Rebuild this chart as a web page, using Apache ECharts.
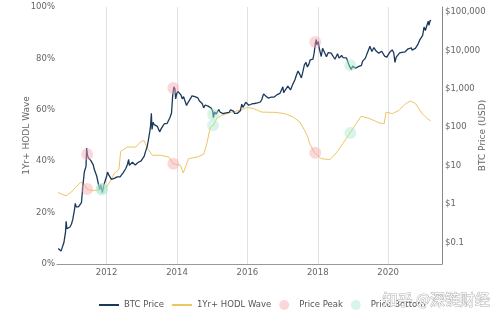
<!DOCTYPE html>
<html><head><meta charset="utf-8">
<script src="https://cdn.jsdelivr.net/npm/echarts@6/dist/echarts.min.js"></script>
<style>html,body{margin:0;padding:0;background:#fff}#c{width:499px;height:321px}</style>
</head><body><div id="c"></div>
<script>
const btcDates = ['2010-08-17','2010-09-01','2010-09-15','2010-10-01','2010-10-15','2010-11-01','2010-11-07','2010-11-15','2010-12-01','2010-12-15',
'2011-01-01','2011-01-15','2011-02-01','2011-02-10','2011-02-20','2011-03-01','2011-03-15','2011-04-01','2011-04-15','2011-05-01','2011-05-15','2011-05-25','2011-06-01','2011-06-08','2011-06-15','2011-06-25','2011-07-05','2011-07-20','2011-08-01','2011-08-15','2011-08-25','2011-09-05','2011-09-20','2011-10-05','2011-10-20','2011-11-01','2011-11-18','2011-12-01','2011-12-15',
'2012-01-01','2012-01-10','2012-01-25','2012-02-10','2012-02-20','2012-03-05','2012-03-20','2012-04-05','2012-04-20','2012-05-05','2012-05-20','2012-06-05','2012-06-20','2012-07-05','2012-07-20','2012-08-05','2012-08-17','2012-08-25','2012-09-10','2012-09-25','2012-10-10','2012-10-25','2012-11-10','2012-11-25','2012-12-10','2012-12-25',
'2013-01-10','2013-01-25','2013-02-10','2013-02-25','2013-03-10','2013-03-25','2013-04-01','2013-04-10','2013-04-17','2013-04-28','2013-05-10','2013-05-25','2013-06-10','2013-06-25','2013-07-05','2013-07-20','2013-08-05','2013-08-20','2013-09-05','2013-09-20','2013-10-05','2013-10-20','2013-11-05','2013-11-18','2013-11-30','2013-12-10','2013-12-18','2013-12-28',
'2014-01-10','2014-01-25','2014-02-10','2014-02-25','2014-03-10','2014-03-25','2014-04-10','2014-04-25','2014-05-10','2014-05-25','2014-06-05','2014-06-20','2014-07-05','2014-07-20','2014-08-05','2014-08-20','2014-09-05','2014-09-20','2014-10-05','2014-10-20','2014-11-05','2014-11-20','2014-12-05','2014-12-20',
'2015-01-05','2015-01-14','2015-01-25','2015-02-10','2015-02-25','2015-03-10','2015-03-25','2015-04-10','2015-04-25','2015-05-10','2015-05-25','2015-06-10','2015-06-25','2015-07-10','2015-07-25','2015-08-10','2015-08-20','2015-09-05','2015-09-20','2015-10-05','2015-10-20','2015-11-04','2015-11-15','2015-11-30','2015-12-15','2015-12-30',
'2016-01-15','2016-01-30','2016-02-15','2016-02-28','2016-03-15','2016-03-30','2016-04-15','2016-04-30','2016-05-15','2016-05-30','2016-06-17','2016-06-25','2016-07-10','2016-07-25','2016-08-05','2016-08-20','2016-09-05','2016-09-20','2016-10-05','2016-10-20','2016-11-05','2016-11-20','2016-12-05','2016-12-20',
'2017-01-04','2017-01-12','2017-01-25','2017-02-10','2017-02-25','2017-03-05','2017-03-24','2017-04-10','2017-04-25','2017-05-10','2017-05-25','2017-06-10','2017-06-25','2017-07-15','2017-07-30','2017-08-15','2017-08-30','2017-09-01','2017-09-15','2017-09-30','2017-10-15','2017-10-30','2017-11-12','2017-11-25','2017-12-08','2017-12-17','2017-12-22','2017-12-31',
'2018-01-06','2018-01-17','2018-01-28','2018-02-06','2018-02-20','2018-03-05','2018-03-18','2018-04-01','2018-04-20','2018-05-05','2018-05-20','2018-06-05','2018-06-28','2018-07-10','2018-07-25','2018-08-10','2018-08-25','2018-09-05','2018-09-20','2018-10-05','2018-10-25','2018-11-10','2018-11-25','2018-12-05','2018-12-15','2018-12-28',
'2019-01-10','2019-01-28','2019-02-10','2019-02-25','2019-03-15','2019-03-30','2019-04-10','2019-04-25','2019-05-10','2019-05-25','2019-06-10','2019-06-26','2019-07-05','2019-07-16','2019-07-30','2019-08-06','2019-08-20','2019-08-30','2019-09-15','2019-09-25','2019-10-10','2019-10-26','2019-11-10','2019-11-25','2019-12-10','2019-12-18','2019-12-31',
'2020-01-15','2020-01-30','2020-02-12','2020-02-28','2020-03-08','2020-03-12','2020-03-25','2020-04-10','2020-04-30','2020-05-10','2020-05-25','2020-06-05','2020-06-25','2020-07-10','2020-07-27','2020-08-15','2020-08-30','2020-09-05','2020-09-20','2020-10-10','2020-10-28','2020-11-10','2020-11-25','2020-12-10','2020-12-25',
'2021-01-08','2021-01-22','2021-02-08','2021-02-21','2021-02-28','2021-03-13','2021-03-20'];
const btcPrices = [0.07,0.065,0.06,0.062,0.10,0.19,0.36,0.23,0.21,0.25,
0.30,0.40,0.70,1.05,0.85,0.90,0.85,0.78,1.10,3.2,7.0,8.3,9.6,29.0,19.5,16.0,14.5,13.8,13.0,10.5,8.2,7.5,5.4,4.8,2.4,3.2,2.0,3.0,3.2,
5.3,6.8,5.7,5.8,4.4,4.9,4.7,4.9,5.1,5.1,5.1,5.3,6.5,6.7,8.6,10.9,14.5,10.2,11.2,12.3,11.9,10.5,10.9,12.3,13.4,13.4,
14.1,17.5,24.0,30.9,46.0,78.0,104,230,88,135,117,131,106,103,76,91,106,122,125,126,122,180,235,700,1130,1000,550,740,
860,900,700,550,625,580,370,440,450,580,660,595,630,620,585,490,480,410,320,380,340,355,375,318,
270,178,250,220,238,290,246,236,226,242,237,229,243,284,290,264,230,235,231,240,270,400,330,378,450,430,
375,378,404,433,416,412,430,448,455,530,740,665,650,655,575,580,610,608,612,630,705,730,765,795,
1130,790,900,1000,1180,1275,935,1200,1280,1750,2300,2900,2500,1920,2750,4200,4600,4900,3700,4340,5700,6130,5900,8700,16000,19300,13800,14000,
17100,11200,11800,6950,11400,11500,8200,6900,8800,9800,8500,7600,5900,6300,8200,6300,6700,7400,6500,6600,6400,6400,3900,3900,3200,3900,
3600,3450,3600,3800,3900,4100,5200,5400,6300,8000,8000,12900,11000,9400,9500,11800,10800,9600,10300,8500,8600,9500,8800,7100,7300,6700,7200,
8800,9500,10350,8700,8000,4900,6700,6900,8650,8700,8900,9700,9200,9250,11000,11800,11700,10200,10900,11300,13300,15300,18800,18200,24700,
40700,33000,46000,57500,45000,61000,58300];

const hodlDates = ['2010-08-15','2010-11-06','2011-01-01','2011-02-17','2011-04-08','2011-05-22','2011-06-17','2011-08-10','2011-11-02',
'2012-01-01','2012-02-14','2012-03-18','2012-05-08','2012-05-26','2012-08-04','2012-10-30','2012-12-20',
'2013-01-23','2013-02-28','2013-04-20','2013-07-13','2013-10-09','2013-11-22','2014-02-06','2014-03-07','2014-05-01','2014-07-28','2014-10-05','2014-11-06','2014-12-13',
'2015-01-15','2015-02-17','2015-04-13','2015-07-24','2015-11-03','2015-12-24','2016-03-03','2016-05-30','2016-10-12',
'2017-01-23','2017-04-20','2017-06-28','2017-08-18','2017-09-20','2017-10-08','2017-11-28','2018-02-06','2018-05-05','2018-07-09','2018-09-16','2018-12-02',
'2019-02-03','2019-03-26','2019-06-21','2019-10-01','2019-11-21','2019-12-09','2020-02-14','2020-04-23','2020-07-01','2020-08-21','2020-10-12','2020-12-20','2021-02-10','2021-03-20'];
const hodlPct = [27.8,26.5,28,30,31.9,30.5,29,28.5,29,
30,32.6,35,36.8,43.8,45.5,45.5,47.5,
48.1,45,42.3,42.3,41.6,39,38.4,35.4,41,41.6,42.7,46.8,53.3,
54,56.6,57.9,59.1,60,60.9,60.5,59.1,59,
58.5,57.2,55.3,52,49.4,47,43.3,41,40.6,43,46.8,51,
54.6,57.5,56.6,54.9,54.6,59.1,58.5,59.8,62.4,63.4,62.4,58.5,56.6,55.6];

const peakDates = ['2011-06-13','2013-11-24','2017-12-06'];
const peakPrices = [20, 1050, 16600];
const peakHodl = [29.2, 39, 43.3];
const bottomDates = ['2011-11-13','2015-01-10','2018-12-05'];
const bottomPrices = [2.5, 214, 4100];
const bottomHodl = [29, 54, 51];

function toYear(s){
  const d = Date.UTC(+s.slice(0,4), +s.slice(5,7)-1, +s.slice(8,10));
  const y = +s.slice(0,4);
  const a = Date.UTC(y,0,1), b = Date.UTC(y+1,0,1);
  return y + (d-a)/(b-a);
}
const pair = (ds, vs) => ds.map((d,i)=>[toYear(d), vs[i]]);
const FONT = 'DejaVu Sans';
const TXT = '#666';
const LINE_ICON = 'path://M0,0L0.01,0L0,0.01ZM0,4H20V6H0ZM0,10L0.01,10L0,9.99Z';
function fmtPrice(v){
  const l = Math.log10(v);
  if (Math.abs(l-Math.round(l))>1e-6) return '';
  const p = Math.round(l);
  if (p < 0) return '$' + (Math.pow(10,p)).toFixed(-p);
  return '$' + String(Math.pow(10,p)).replace(/\B(?=(\d{3})+(?!\d))/g, ',');
}
const chart = echarts.init(document.getElementById('c'), null, {renderer:'canvas'});
chart.setOption({
  animation:false,
  backgroundColor:'#fff',
  grid:{left:57, right:57, top:7, bottom:57, containLabel:false, outerBoundsMode:'none'},
  legend:{
    left:94, top:295, itemWidth:20, itemHeight:10, itemGap:8,
    textStyle:{color:'#555', fontSize:8.5, fontFamily:FONT},
    data:[{name:'BTC Price', icon:LINE_ICON},{name:'1Yr+ HODL Wave', icon:LINE_ICON},{name:'Price Peak', icon:'circle'},{name:'Price Bottom', icon:'circle'}]
  },
  xAxis:{
    type:'value', min:2010.59, max:2021.53, splitNumber:5,
    axisLine:{lineStyle:{color:'#999'}}, axisTick:{show:false},
    axisLabel:{color:TXT, fontSize:8.5, fontFamily:FONT, margin:4, showMinLabel:false, showMaxLabel:false,
      formatter:v=>{const r=Math.round(v); return (Math.abs(v-r)<1e-6 && r%2===0)?String(r):'';}},
    splitLine:{show:true, showMinLine:false, showMaxLine:false, lineStyle:{color:'#e2e2e2', width:1}}
  },
  yAxis:[
    {type:'value', min:0, max:100, interval:20, position:'left',
     name:'1Yr+ HODL Wave', nameLocation:'middle', nameGap:26, nameMoveOverlap:false,
     nameTextStyle:{color:TXT, fontSize:9, fontFamily:FONT},
     axisLine:{show:false}, axisTick:{show:false}, splitLine:{show:false},
     axisLabel:{color:TXT, fontSize:8.5, fontFamily:FONT, margin:2, formatter:'{value}%'}},
    {type:'log', logBase:10, min:0.0277, max:134900, position:'right',
     name:'BTC Price (USD)', nameLocation:'middle', nameGap:36, nameMoveOverlap:false,
     nameTextStyle:{color:TXT, fontSize:9, fontFamily:FONT},
     axisLine:{show:true, lineStyle:{color:'#888'}}, axisTick:{show:false}, splitLine:{show:false},
     axisLabel:{color:TXT, fontSize:8.5, fontFamily:FONT, margin:3, showMinLabel:false, showMaxLabel:false, formatter:fmtPrice}}
  ],
  series:[
    {name:'BTC Price', type:'line', yAxisIndex:1, symbol:'none', data:pair(btcDates, btcPrices),
     lineStyle:{color:'#1a395d', width:1.3}, itemStyle:{color:'#1a395d'}, z:3},
    {name:'1Yr+ HODL Wave', type:'line', yAxisIndex:0, symbol:'none', data:pair(hodlDates, hodlPct),
     lineStyle:{color:'#edc563', width:1}, itemStyle:{color:'#edc563'}, z:2},
    {name:'Price Peak', type:'scatter', yAxisIndex:1, symbol:'circle', symbolSize:12, data:pair(peakDates, peakPrices),
     itemStyle:{color:'rgba(246,165,175,0.55)'}, z:4},
    {name:'Price Peak', type:'scatter', yAxisIndex:0, symbol:'circle', symbolSize:12, data:pair(peakDates, peakHodl),
     itemStyle:{color:'rgba(246,165,175,0.55)'}, z:4},
    {name:'Price Bottom', type:'scatter', yAxisIndex:1, symbol:'circle', symbolSize:12, data:pair(bottomDates, bottomPrices),
     itemStyle:{color:'rgba(165,232,205,0.55)'}, z:4},
    {name:'Price Bottom', type:'scatter', yAxisIndex:0, symbol:'circle', symbolSize:12, data:pair(bottomDates, bottomHodl),
     itemStyle:{color:'rgba(165,232,205,0.55)'}, z:4}
  ],
  graphic:[
    {type:'text', left:382, top:291, z:100, silent:true,
     style:{text:'知乎 @深链财经', fontSize:15, fontFamily:'Noto Sans CJK SC', fill:'rgba(255,255,255,0.92)', stroke:'#b5b5b5', lineWidth:1}}
  ]
});
</script>
</body></html>
